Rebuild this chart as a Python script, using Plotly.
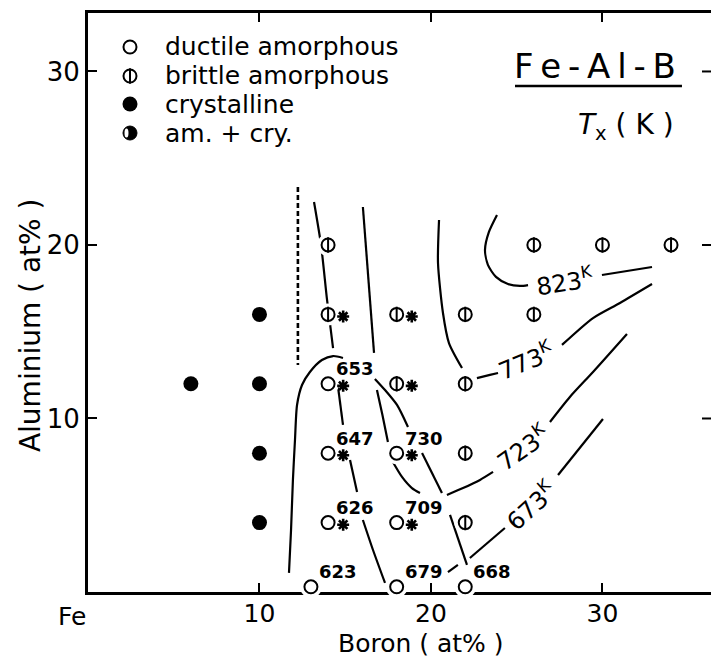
import plotly.graph_objects as go

FONT = "DejaVu Sans"

# ---------------- data (B at%, Al at%) ----------------
ductile_b = [14, 14, 14, 18, 18, 13, 18, 22]
ductile_al = [12, 8, 4, 8, 4, 0.3, 0.3, 0.3]
brittle_b = [14, 14, 18, 22, 26, 18, 22, 22, 22, 26, 30, 34]
brittle_al = [20, 16, 16, 16, 16, 12, 12, 8, 4, 20, 20, 20]
cryst_b = [10, 6, 10, 10, 10]
cryst_al = [16, 12, 12, 8, 4]

# crystallisation temperatures written beside points
tx_b = [14, 14, 14, 13, 18, 18, 18, 22]
tx_al = [12, 8, 4, 0.3, 8, 4, 0.3, 0.3]
tx_val = [653, 647, 626, 623, 730, 709, 679, 668]

# compositions marked with an asterisk (beside / below)
star_side_b = [14, 18, 14, 18, 14, 18, 14, 18]
star_side_al = [16, 16, 12, 12, 8, 8, 4, 4]
star_below_b = [13, 18]
star_below_al = [0.3, 0.3]

# hand-drawn boundary / isotherm lines (None = break)
dash_b = [12.24, 12.24]
dash_al = [23.34, 13.08]

loop_b = [11.72, 11.84, 11.95, 12.07, 12.19, 12.48, 12.94, 13.64, 14.29, 14.87]
loop_al = [1.10, 3.57, 6.46, 8.76, 10.78, 11.93, 12.68, 13.37, 13.60, 13.49]

short_lines = [
    ([13.18, 13.59, 13.94, 14.29], [22.48, 20.0, 16.83, 14.06]),
    ([16.03, 16.68], [22.19, 13.78]),
    ([14.58, 14.87], [11.82, 9.63]),
    ([15.28, 15.69], [7.61, 5.76]),
    ([16.03, 16.62, 17.32], [4.15, 2.42, 0.52]),
    ([16.85, 17.17, 17.49], [11.64, 10.2, 8.65]),
    ([16.73, 17.32, 18.02, 18.66], [12.28, 11.64, 10.78, 9.51]),
    ([17.78, 18.31, 18.89, 19.36], [7.49, 6.63, 5.99, 5.71]),
    ([19.48, 20.64], [8.01, 5.71]),
    ([21.11, 22.10], [4.44, 1.56]),
]

iso673_b = [20.99, 21.57, None, 22.27, 24.31, None, 27.41, 30.03]
iso673_al = [1.15, 1.56, None, 1.96, 3.69, None, 6.74, 9.97]
iso723_b = [20.93, 21.87, 22.86, 23.62, None, 26.94, 28.10, 29.45, 31.43]
iso723_al = [5.59, 5.99, 6.46, 6.92, None, 9.80, 11.24, 12.68, 14.87]
iso773_b = [20.47, 20.41, 20.70, 21.05, 21.81, None, 22.68, 23.44, 23.91, None, 27.64, 29.45, 31.02, 32.89]
iso773_al = [21.44, 18.96, 16.08, 14.35, 12.91, None, 12.33, 12.51, 12.62, None, 14.24, 15.79, 16.66, 17.75]
iso823_b = [23.85, 23.38, 23.15, 23.32, 23.79, 24.49, 25.19, 25.66, None, 29.97, 32.89]
iso823_al = [21.73, 20.75, 19.71, 18.85, 18.16, 17.75, 17.64, 17.69, None, 18.27, 18.73]

iso_vals = [823, 773, 723, 673]
iso_lab_b = [27.81, 25.54, 25.36, 25.83]
iso_lab_al = [17.93, 13.37, 8.36, 5.01]
iso_lab_angle = [-9, -22, -35, -42]

x_ticks = [10, 20, 30]
y_ticks = [10, 20, 30]

legend_labels = ["ductile amorphous", "brittle amorphous", "crystalline", "am. + cry."]

# ---------------- figure ----------------
fig = go.Figure()
LW = 2.2

def add_line(xs, ys, dash="solid", spline=True, width=LW):
    fig.add_trace(go.Scatter(x=xs, y=ys, mode="lines", hoverinfo="skip",
                             line=dict(color="black", width=width, dash=dash,
                                       shape="spline" if spline else "linear", smoothing=0.7),
                             connectgaps=False, cliponaxis=False))

add_line(dash_b, dash_al, dash="5px,3px", spline=False, width=2.6)
add_line(loop_b, loop_al)
for xs, ys in short_lines:
    add_line(xs, ys)
for xs, ys in [(iso673_b, iso673_al), (iso723_b, iso723_al),
               (iso773_b, iso773_al), (iso823_b, iso823_al)]:
    add_line(xs, ys)

# white halos behind open symbols (mask lines / axis)
fig.add_trace(go.Scatter(x=ductile_b + brittle_b, y=ductile_al + brittle_al, mode="markers",
                         marker=dict(symbol="circle", size=22, color="white", line=dict(width=0)),
                         hoverinfo="skip", cliponaxis=False))

open_circle = dict(symbol="circle", size=13, color="white", line=dict(color="black", width=2))
bar = dict(symbol="line-ns-open", size=11, color="black", line=dict(color="black", width=2))

# ductile amorphous
fig.add_trace(go.Scatter(x=ductile_b, y=ductile_al, mode="markers",
                         marker=open_circle, cliponaxis=False))
# brittle amorphous: circle + vertical bar
fig.add_trace(go.Scatter(x=brittle_b, y=brittle_al, mode="markers",
                         marker=open_circle, cliponaxis=False))
fig.add_trace(go.Scatter(x=brittle_b, y=brittle_al, mode="markers",
                         marker=bar, cliponaxis=False))
# crystalline
fig.add_trace(go.Scatter(x=cryst_b, y=cryst_al, mode="markers",
                         marker=dict(symbol="circle", size=15, color="black"),
                         cliponaxis=False))

# asterisks
SIDE_DX, SIDE_DY = 0.88, -0.12
BELOW_DX, BELOW_DY = 0.5, -0.9
star_marker = dict(symbol="asterisk-open", size=10, color="black",
                   line=dict(color="black", width=2.6))
fig.add_trace(go.Scatter(x=[b + SIDE_DX for b in star_side_b],
                         y=[a + SIDE_DY for a in star_side_al], mode="markers",
                         marker=star_marker, cliponaxis=False))
fig.add_trace(go.Scatter(x=[b + BELOW_DX for b in star_below_b],
                         y=[a + BELOW_DY for a in star_below_al], mode="markers",
                         marker=star_marker, cliponaxis=False))

# legend symbols on an overlay (paper-like) axis
leg_x = 0.0674
leg_y = [0.9413, 0.8912, 0.8428, 0.7927]
fig.add_trace(go.Scatter(x=[leg_x], y=[leg_y[0]], xaxis="x2", yaxis="y2", mode="markers",
                         marker=open_circle, cliponaxis=False))
fig.add_trace(go.Scatter(x=[leg_x], y=[leg_y[1]], xaxis="x2", yaxis="y2", mode="markers",
                         marker=open_circle, cliponaxis=False))
fig.add_trace(go.Scatter(x=[leg_x], y=[leg_y[1]], xaxis="x2", yaxis="y2", mode="markers",
                         marker=bar, cliponaxis=False))
fig.add_trace(go.Scatter(x=[leg_x], y=[leg_y[2]], xaxis="x2", yaxis="y2", mode="markers",
                         marker=dict(symbol="circle", size=15, color="black"), cliponaxis=False))

annotations = []
for lab, y in zip(legend_labels, leg_y):
    annotations.append(dict(xref="paper", yref="paper", x=0.1204, y=y, text=lab,
                            showarrow=False, xanchor="left", yanchor="middle",
                            font=dict(family=FONT, size=25, color="black")))

for b, a, v in zip(tx_b, tx_al, tx_val):
    annotations.append(dict(x=b, y=a, text=f"<b>{v}</b>", showarrow=False,
                            xshift=27, yshift=15, xanchor="center", yanchor="middle",
                            font=dict(family=FONT, size=18, color="black")))

for b, a, v, ang in zip(iso_lab_b, iso_lab_al, iso_vals, iso_lab_angle):
    annotations.append(dict(x=b, y=a, text=f"{v}<sup>K</sup>", showarrow=False,
                            textangle=ang, xanchor="center", yanchor="middle",
                            font=dict(family=FONT, size=24, color="black")))

annotations += [
    dict(xref="paper", yref="paper", x=0.8138, y=0.9085,
         text="F\u2009e\u2009-\u2009A\u2009l\u2009-\u2009B", showarrow=False,
         xanchor="center", yanchor="middle", font=dict(family=FONT, size=34, color="black")),
    dict(xref="paper", yref="paper", x=0.8628, y=0.8048,
         text="<i>T</i><sub>x</sub> ( K )", showarrow=False,
         xanchor="center", yanchor="middle", font=dict(family=FONT, size=28, color="black")),
    dict(xref="paper", yref="paper", x=-0.0931, y=0.461, text="Aluminium ( at% )",
         textangle=-90, showarrow=False, xanchor="center", yanchor="middle",
         font=dict(family=FONT, size=28, color="black")),
    dict(xref="paper", yref="paper", x=0.5345, y=-0.0881, text="Boron ( at% )",
         showarrow=False, xanchor="center", yanchor="middle",
         font=dict(family=FONT, size=25, color="black")),
    dict(x=0, xref="x", yref="paper", y=-0.0415, xshift=-16, text="Fe", showarrow=False,
         xanchor="center", yanchor="middle", font=dict(family=FONT, size=25, color="black")),
]

shapes = [dict(type="line", xref="paper", yref="paper", x0=0.6854, x1=0.9534,
               y0=0.8739, y1=0.8739, line=dict(color="black", width=2.5))]
# right-hand tick marks (no right axis line)
for t in y_ticks:
    shapes.append(dict(type="line", xref="paper", yref="y", x0=1 - 9 / 623, x1=1,
                       y0=t, y1=t, line=dict(color="black", width=2)))
# legend symbol "am. + cry." : black disc with a white crescent on its left
shapes.append(dict(type="circle", xref="paper", yref="paper", xsizemode="pixel",
                   ysizemode="pixel", xanchor=leg_x, yanchor=leg_y[3],
                   x0=-7, x1=7, y0=-7, y1=7, fillcolor="black",
                   line=dict(color="black", width=1)))
shapes.append(dict(type="circle", xref="paper", yref="paper", xsizemode="pixel",
                   ysizemode="pixel", xanchor=leg_x, yanchor=leg_y[3],
                   x0=-5.5, x1=-1.5, y0=-4.5, y1=4.5, fillcolor="white",
                   line=dict(width=0)))

fig.update_layout(
    width=711, height=658,
    margin=dict(l=88, r=0, t=13, b=66),
    paper_bgcolor="white", plot_bgcolor="white", showlegend=False,
    xaxis=dict(range=[0, 36.33], tickvals=x_ticks, ticktext=[str(t) for t in x_ticks],
               ticks="inside", ticklen=9, tickwidth=2, tickcolor="black",
               showline=True, linewidth=3, linecolor="black", mirror="ticks",
               showgrid=False, zeroline=False, ticklabelstandoff=-3,
               tickfont=dict(family=FONT, size=25, color="black"), layer="below traces"),
    yaxis=dict(range=[0, 33.37], tickvals=y_ticks, ticktext=[str(t) for t in y_ticks],
               ticks="inside", ticklen=9, tickwidth=2, tickcolor="black",
               showline=True, linewidth=3, linecolor="black", mirror=False,
               showgrid=False, zeroline=False,
               tickfont=dict(family=FONT, size=26, color="black"), layer="below traces"),
    xaxis2=dict(overlaying="x", range=[0, 1], visible=False),
    yaxis2=dict(overlaying="y", range=[0, 1], visible=False),
    annotations=annotations, shapes=shapes,
)

fig.write_html("out.html")
